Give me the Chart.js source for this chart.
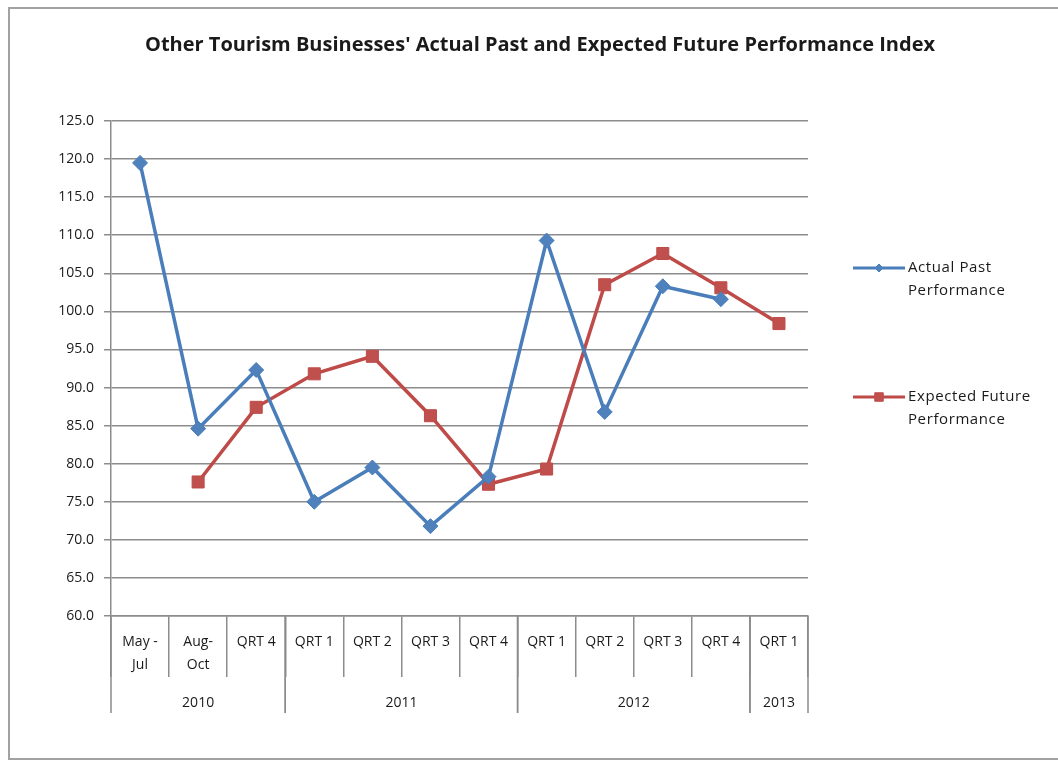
<!DOCTYPE html>
<html>
<head>
<meta charset="utf-8">
<script src="https://cdn.jsdelivr.net/npm/chart.js@4/dist/chart.umd.min.js"></script>
<style>
  html, body { margin: 0; padding: 0; background: #ffffff; }
  #wrap { position: relative; width: 1058px; height: 761px; overflow: hidden; }
  #frame {
    position: absolute; left: 8px; top: 7px; width: 1100px; height: 749px;
    border: 2px solid #a2a2a2; box-sizing: content-box;
  }
  #chart { position: absolute; left: 0; top: 0; }
</style>
</head>
<body>
<div id="wrap">
  <div id="frame"></div>
  <canvas id="chart" width="1058" height="761"></canvas>
</div>
<script>
// Period labels along the bottom axis (two-line where the period is a month range)
const periods = [['May -', 'Jul'], ['Aug-', 'Oct'], 'QRT 4', 'QRT 1', 'QRT 2', 'QRT 3', 'QRT 4', 'QRT 1', 'QRT 2', 'QRT 3', 'QRT 4', 'QRT 1'];
// Year groups and how many periods each one covers
const years = ['2010', '2011', '2012', '2013'];
const yearSpans = [3, 4, 4, 1];

// Index values per period
const actualPast = [119.5, 84.6, 92.3, 75.0, 79.5, 71.8, 78.3, 109.3, 86.8, 103.3, 101.6, null];
const expectedFuture = [null, 77.6, 87.4, 91.8, 94.1, 86.3, 77.3, 79.3, 103.5, 107.6, 103.1, 98.4];

// Value axis ticks
const yMin = 60, yMax = 125, yStep = 5;

const FONT = '"Open Sans", "Liberation Sans", sans-serif';
const TEXT = '#1a1a1a';
const GRID = '#8c8c8c';

// Year row under the period labels, with the longer dividers between years
const yearRow = {
  id: 'yearRow',
  afterDraw(chart) {
    const x = chart.scales.x;
    const ctx = chart.ctx;
    const half = (x.getPixelForValue(1) - x.getPixelForValue(0)) / 2;
    const top = chart.chartArea.bottom;
    ctx.save();
    ctx.strokeStyle = GRID;
    ctx.lineWidth = 1.5;
    ctx.fillStyle = TEXT;
    ctx.font = '14px ' + FONT;
    ctx.textAlign = 'center';
    ctx.textBaseline = 'middle';
    let start = 0;
    years.forEach((yr, i) => {
      const end = start + yearSpans[i] - 1;
      const left = x.getPixelForValue(start) - half;
      const right = x.getPixelForValue(end) + half;
      ctx.beginPath();
      ctx.moveTo(left, top); ctx.lineTo(left, top + 97);
      ctx.moveTo(right, top); ctx.lineTo(right, top + 97);
      ctx.stroke();
      ctx.fillText(yr, (left + right) / 2, top + 87);
      start = end + 1;
    });
    ctx.restore();
  }
};

// Legend at the right, each entry wrapped onto two lines
const sideLegend = {
  id: 'sideLegend',
  afterDraw(chart) {
    const ctx = chart.ctx;
    const area = chart.chartArea;
    const entries = [
      { ds: chart.data.datasets[0], lines: ['Actual Past', 'Performance'], y: area.top + 147 },
      { ds: chart.data.datasets[1], lines: ['Expected Future', 'Performance'], y: area.top + 276 }
    ];
    ctx.save();
    entries.forEach(e => {
      const x0 = area.right + 45, x1 = area.right + 97;
      ctx.strokeStyle = e.ds.borderColor;
      ctx.lineWidth = 3;
      ctx.beginPath();
      ctx.moveTo(x0, e.y); ctx.lineTo(x1, e.y);
      ctx.stroke();
      ctx.fillStyle = e.ds.pointBackgroundColor;
      ctx.strokeStyle = e.ds.pointBorderColor;
      ctx.lineWidth = 1;
      const r = e.ds.pointStyle === 'rect' ? 6 : 4;
      Chart.helpers.drawPoint(ctx, { pointStyle: e.ds.pointStyle, radius: r, borderWidth: 1 }, (x0 + x1) / 2, e.y);
      ctx.fillStyle = TEXT;
      ctx.font = '15px ' + FONT;
      ctx.letterSpacing = '0.6px';
      ctx.textAlign = 'left';
      ctx.textBaseline = 'middle';
      e.lines.forEach((t, k) => ctx.fillText(t, x1 + 3, e.y + k * 23));
    });
    ctx.restore();
  }
};

new Chart(document.getElementById('chart'), {
  type: 'line',
  data: {
    labels: periods,
    datasets: [
      {
        label: 'Actual Past Performance',
        data: actualPast,
        borderColor: '#4A7EBB',
        backgroundColor: '#4F81BD',
        pointBackgroundColor: '#4F81BD',
        pointBorderColor: '#4A7EBB',
        pointStyle: 'rectRot',
        pointRadius: 7.5,
        pointBorderWidth: 1,
        borderWidth: 3.5,
        tension: 0,
        spanGaps: false
      },
      {
        label: 'Expected Future Performance',
        data: expectedFuture,
        borderColor: '#BE4B48',
        backgroundColor: '#C0504D',
        pointBackgroundColor: '#C0504D',
        pointBorderColor: '#BE4B48',
        pointStyle: 'rect',
        pointRadius: 8.5,
        pointBorderWidth: 1,
        borderWidth: 3.5,
        tension: 0,
        spanGaps: false
      }
    ]
  },
  options: {
    responsive: false,
    animation: false,
    events: [],
    layout: { padding: { left: 22, right: 0, top: 0, bottom: 45 } },
    plugins: {
      legend: { display: false },
      tooltip: { enabled: false },
      title: {
        display: true,
        text: "Other Tourism Businesses' Actual Past and Expected Future Performance Index",
        color: TEXT,
        font: { family: FONT, size: 20, weight: 'bold', lineHeight: 1.2 },
        padding: { top: 33, bottom: 64 }
      }
    },
    scales: {
      x: {
        type: 'category',
        offset: true,
        grid: { offset: true, drawOnChartArea: false, tickLength: 61, color: GRID, lineWidth: 1.5 },
        border: { display: true, color: GRID, width: 1.5 },
        ticks: {
          color: TEXT,
          font: { family: FONT, size: 14, lineHeight: 1.6 },
          padding: -46,
          maxRotation: 0,
          autoSkip: false
        },
        afterFit(s) { s.height = 100; }
      },
      y: {
        min: yMin,
        max: yMax,
        grid: { color: GRID, lineWidth: 1.5, tickLength: 7 },
        border: { display: true, color: GRID, width: 1.5 },
        ticks: {
          stepSize: yStep,
          color: TEXT,
          font: { family: FONT, size: 14 },
          padding: 10,
          callback: v => Number(v).toFixed(1)
        },
        afterFit(s) { s.width = 89; }
      },
      legendSpace: {
        type: 'linear',
        position: 'right',
        display: true,
        grid: { display: false },
        border: { display: false },
        ticks: { display: false },
        afterFit(s) { s.width = 250; }
      }
    }
  },
  plugins: [yearRow, sideLegend]
});
</script>
</body>
</html>
